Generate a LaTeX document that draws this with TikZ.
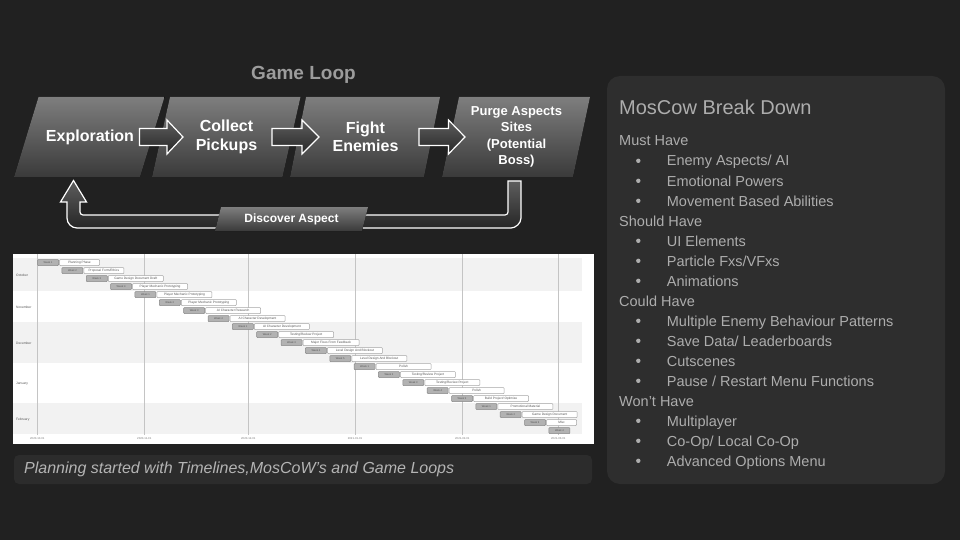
\documentclass[tikz,border=0pt]{standalone}
\usepackage{fontspec}
\setmainfont{Liberation Sans}
\usetikzlibrary{calc}

\definecolor{bgdark}{HTML}{212121}
\definecolor{panelgrey}{HTML}{2E2E2E}
\definecolor{capgrey}{HTML}{2C2C2C}
\definecolor{titlegrey}{HTML}{9C9C9C}
\definecolor{listgrey}{HTML}{ADADAD}
\definecolor{stagetop}{HTML}{7E7E7E}
\definecolor{stagebot}{HTML}{3A3A3A}
\definecolor{arrtop}{HTML}{5E5E5E}
\definecolor{arrbot}{HTML}{262626}
\definecolor{bandgrey}{HTML}{F2F2F2}
\definecolor{gridgrey}{HTML}{C4C4C4}
\definecolor{weekfill}{HTML}{B2B2B2}
\definecolor{weekline}{HTML}{888888}
\definecolor{taskline}{HTML}{A6A6A6}
\definecolor{charttxt}{HTML}{555555}

\begin{document}
\begin{tikzpicture}[x=1pt,y=-1pt,
  stagefill/.style={top color=stagetop, bottom color=stagebot},
  stagetext/.style={font=\bfseries\fontsize{16}{18.5}\selectfont, text=white, align=center, inner sep=0},
  purgetext/.style={font=\bfseries\fontsize{13}{16.5}\selectfont, text=white, align=center, inner sep=0},
  flowarr/.style={draw=white, line width=1.2pt, line join=miter, top color=arrtop, bottom color=arrbot},
  weekbox/.style={draw=weekline, fill=weekfill, line width=0.5pt, rounded corners=0.8pt,
    minimum width=21pt, minimum height=6pt, inner sep=0pt, anchor=north west,
    font=\fontsize{2.6}{3}\selectfont, text=charttxt},
  taskbox/.style={draw=taskline, fill=white, line width=0.5pt, rounded corners=0.8pt,
    minimum height=6pt, inner sep=0pt, anchor=north west,
    font=\fontsize{3.2}{3.6}\selectfont, text=charttxt},
  monthlabel/.style={anchor=west, inner sep=0pt, font=\fontsize{3.3}{4}\selectfont, text=charttxt},
  datelabel/.style={inner sep=0pt, font=\fontsize{2.8}{3.2}\selectfont, text=charttxt!80},
  gridline/.style={draw=gridgrey, line width=0.9pt},
  listhead/.style={anchor=base west, inner sep=0pt, font=\fontsize{14.5}{17}\selectfont, text=listgrey},
  listdot/.style={circle, fill=listgrey, minimum size=4.4pt, inner sep=0pt},
]
\useasboundingbox (0,0) rectangle (960,540);
\fill[bgdark] (0,0) rectangle (960,540);

% ---------- game loop ----------
\node[font=\bfseries\fontsize{19}{22}\selectfont, text=titlegrey] (looptitle) at (303.5,75) {Game Loop};

\fill[stagefill] (14,177) -- (38.5,97) -- (164.5,97) -- (140,177) -- cycle;
\fill[stagefill] (152,177) -- (170,97) -- (300.5,97) -- (282.5,177) -- cycle;
\fill[stagefill] (290,177) -- (306,97) -- (440,97) -- (424,177) -- cycle;
\fill[stagefill] (442,177) -- (459,97) -- (590,97) -- (573,177) -- cycle;

\node[stagetext] (explore) at (90,137) {Exploration};
\node[stagetext] (collect) at (226.5,137) {Collect\\Pickups};
\node[stagetext] (fight) at (365.5,137) {Fight\\Enemies};
\node[purgetext] (purge) at (516.5,137) {Purge Aspects\\Sites\\(Potential\\Boss)};

% block arrows between the stages
\path[flowarr] (139.5,128.5) -- (167,128.5) -- (167,120) -- (183,137) -- (167,154) -- (167,145.5) -- (139.5,145.5) -- cycle;
\path[flowarr] (272,128.5) -- (302,128.5) -- (302,120) -- (319,137) -- (302,154) -- (302,145.5) -- (272,145.5) -- cycle;
\path[flowarr] (419,128.5) -- (448.5,128.5) -- (448.5,120) -- (465,137) -- (448.5,154) -- (448.5,145.5) -- (419,145.5) -- cycle;

% return loop back to exploration
\path[flowarr] (508,181) -- (521,181) -- (521,218)
  .. controls (521,223.5) and (515.5,228) .. (511,228) -- (77,228)
  .. controls (71.5,228) and (67,223.5) .. (67,218) -- (67,202)
  -- (60.5,202) -- (73.5,180.5) -- (86.5,202) -- (80,202) -- (80,212)
  .. controls (80,213.7) and (81.3,215) .. (83,215) -- (505,215)
  .. controls (506.7,215) and (508,213.7) .. (508,212) -- cycle;

\fill[top color=stagetop, bottom color=stagebot] (215,231) -- (221,207) -- (368,207) -- (362,231) -- cycle;
\node[font=\bfseries\fontsize{12}{14}\selectfont, text=white, inner sep=0] (discover) at (291.5,219.5) {Discover Aspect};

% ---------- timeline chart ----------
\fill[white] (12.5,254) rectangle (594,444);
\fill[bandgrey] (12.5,258.3) rectangle (582,290.7);
\fill[bandgrey] (12.5,322.3) rectangle (582,362.7);
\fill[bandgrey] (12.5,402.7) rectangle (582,434.3);

\foreach \gx in {37.3,144.3,248.3,355,462.3,558.3}
  \draw[gridline] (\gx,254) -- (\gx,435);

\node[monthlabel] (moct) at (16,275) {October};
\node[monthlabel] (mnov) at (16,307.3) {November};
\node[monthlabel] (mdec) at (16,343.3) {December};
\node[monthlabel] (mjan) at (16,383.3) {January};
\node[monthlabel] (mfeb) at (16,419.3) {February};

\node[datelabel] (d1) at (37.3,438.6) {2020-10-01};
\node[datelabel] (d2) at (144.3,438.6) {2020-11-01};
\node[datelabel] (d3) at (248.3,438.6) {2020-12-01};
\node[datelabel] (d4) at (355,438.6) {2021-01-01};
\node[datelabel] (d5) at (462.3,438.6) {2021-02-01};
\node[datelabel] (d6) at (558.3,438.6) {2021-03-01};

\foreach \i/\w/\task/\len in {
  0/1/Planning Phase/40,
  1/2/{Proposal Form/Ethics}/40,
  2/3/Game Design Document Draft/55,
  3/4/Player Mechanic Prototyping/55,
  4/1/Player Mechanic Prototyping/55,
  5/2/Player Mechanic Prototyping/55,
  6/3/AI Character Research/55,
  7/4/AI Character Development/55,
  8/1/AI Character Development/55,
  9/2/{Testing/Review Project}/55,
  10/3/Major Fixes From Feedback/56,
  11/4/Level Design And Blockout/55,
  12/5/Level Design And Blockout/55,
  13/1/Polish/55,
  14/2/{Testing/Review Project}/55,
  15/3/{Testing/Review Project}/55,
  16/4/Polish/55,
  17/5/{Build Project/ Optimize}/55,
  18/1/Promotional Material/55,
  19/2/Game Design Document/55,
  20/3/Misc/30}{
  \pgfmathsetmacro\gx{37.3+24.35*\i}
  \pgfmathsetmacro\gy{259.3+8*\i}
  \node[weekbox] (w\i) at (\gx,\gy) {Week \w};
  \node[taskbox, minimum width=\len pt] (t\i) at (\gx+22,\gy) {\task};
}
\node[weekbox] (w21) at (548.7,427.3) {Week 4};

% ---------- caption ----------
\fill[capgrey, rounded corners=5pt] (14,455) rectangle (592,484);
\node[anchor=west, inner sep=0, font=\itshape\fontsize{16}{19}\selectfont, text=listgrey!92] (caption) at (24,469.5)
  {Planning started with Timelines,MosCoW's and Game Loops};

% ---------- MoSCoW panel ----------
\fill[panelgrey, rounded corners=13pt] (607,76) rectangle (945,484);
\node[anchor=base west, inner sep=0, font=\fontsize{20}{24}\selectfont, text=listgrey] (mtitle) at (619,115) {MosCow Break Down};

\foreach \k/\kind/\txt in {
  0/h/{Must Have},
  1/b/{Enemy Aspects/ AI},
  2/b/{Emotional Powers},
  3/b/{Movement Based Abilities},
  4/h/{Should Have},
  5/b/{UI Elements},
  6/b/{Particle Fxs/VFxs},
  7/b/{Animations},
  8/h/{Could Have},
  9/b/{Multiple Enemy Behaviour Patterns},
  10/b/{Save Data/ Leaderboards},
  11/b/{Cutscenes},
  12/b/{Pause / Restart Menu Functions},
  13/h/{Won't Have},
  14/b/{Multiplayer},
  15/b/{Co-Op/ Local Co-Op},
  16/b/{Advanced Options Menu}}{
  \pgfmathsetmacro\ly{146+20*\k}
  \if h\kind
    \node[listhead] (li\k) at (619,\ly) {\txt};
  \else
    \node[listdot] (dot\k) at (638.3,\ly-5.2) {};
    \node[listhead] (li\k) at (666.7,\ly) {\txt};
  \fi
}
\end{tikzpicture}
\end{document}
